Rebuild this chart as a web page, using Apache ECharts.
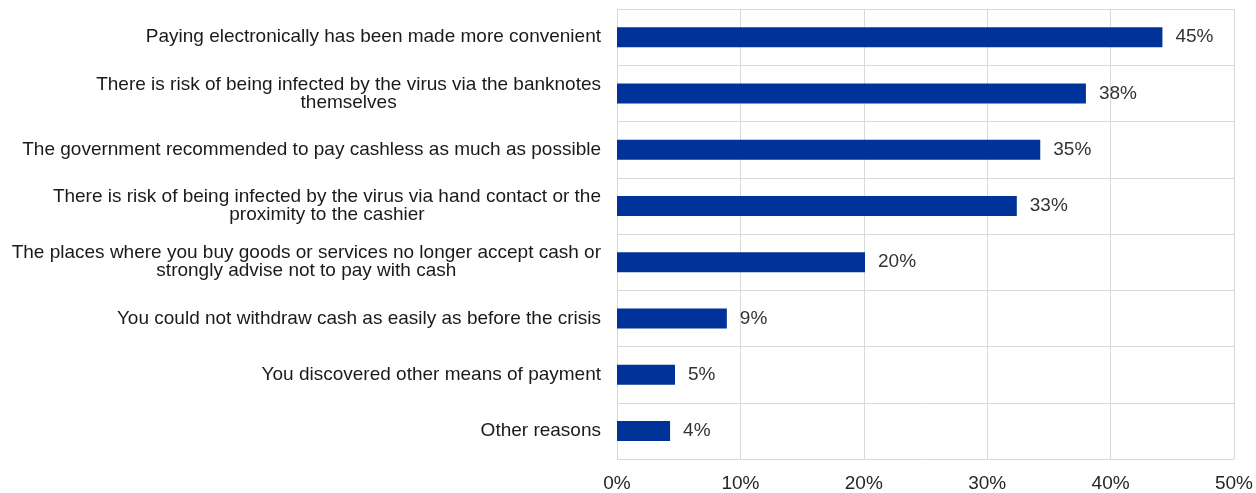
<!DOCTYPE html>
<html><head><meta charset="utf-8">
<script src="https://cdn.jsdelivr.net/npm/echarts@6/dist/echarts.min.js"></script>
<style>html,body{margin:0;padding:0;background:#fff}#c{width:1256px;height:493px}</style>
</head><body><div id="c"></div>
<script>
const categories = [
  "Paying electronically has been made more convenient",
  "There is risk of being infected by the virus via the banknotes\nthemselves",
  "The government recommended to pay cashless as much as possible",
  "There is risk of being infected by the virus via hand contact or the\nproximity to the cashier",
  "The places where you buy goods or services no longer accept cash or\nstrongly advise not to pay with cash",
  "You could not withdraw cash as easily as before the crisis",
  "You discovered other means of payment",
  "Other reasons"
];
const values = [44.2, 38.0, 34.3, 32.4, 20.1, 8.9, 4.7, 4.3];
const valueLabels = ["45%", "38%", "35%", "33%", "20%", "9%", "5%", "4%"];
const xTicks = [0, 10, 20, 30, 40, 50];

const FONT = 'Liberation Sans, Arial, sans-serif';
const chart = echarts.init(document.getElementById('c'), null, {renderer: 'canvas'});
chart.setOption({
  animation: false,
  grid: {left: 617, right: 20, top: 9, bottom: 33, containLabel: false},
  xAxis: {
    type: 'value', min: xTicks[0], max: xTicks[xTicks.length - 1], interval: 10,
    axisLine: {show: false}, axisTick: {show: false},
    axisLabel: {formatter: v => v + '%', color: '#262626', fontFamily: FONT, fontSize: 19, margin: 15},
    splitLine: {show: true, lineStyle: {color: '#d9d9d9', width: 1}}
  },
  yAxis: {
    type: 'category', data: categories, inverse: true,
    axisLine: {show: true, lineStyle: {color: '#d9d9d9'}}, axisTick: {show: false},
    splitLine: {show: true, lineStyle: {color: '#d9d9d9', width: 1}},
    axisLabel: {
      margin: 16, color: '#1a1a1a', fontFamily: FONT, fontSize: 19,
      lineHeight: 18,
      formatter: v => v.split('\n').map(s => '{c|' + s + '}').join('\n'),
      rich: {c: {align: 'center', color: '#1a1a1a', fontFamily: FONT, fontSize: 19, lineHeight: 18}}
    }
  },
  series: [{
    type: 'bar', data: values, barWidth: 20,
    itemStyle: {color: '#003399'},
    label: {
      show: true, position: 'right', distance: 13,
      formatter: p => valueLabels[p.dataIndex],
      color: '#333', fontFamily: FONT, fontSize: 19
    }
  }]
});
</script></body></html>
